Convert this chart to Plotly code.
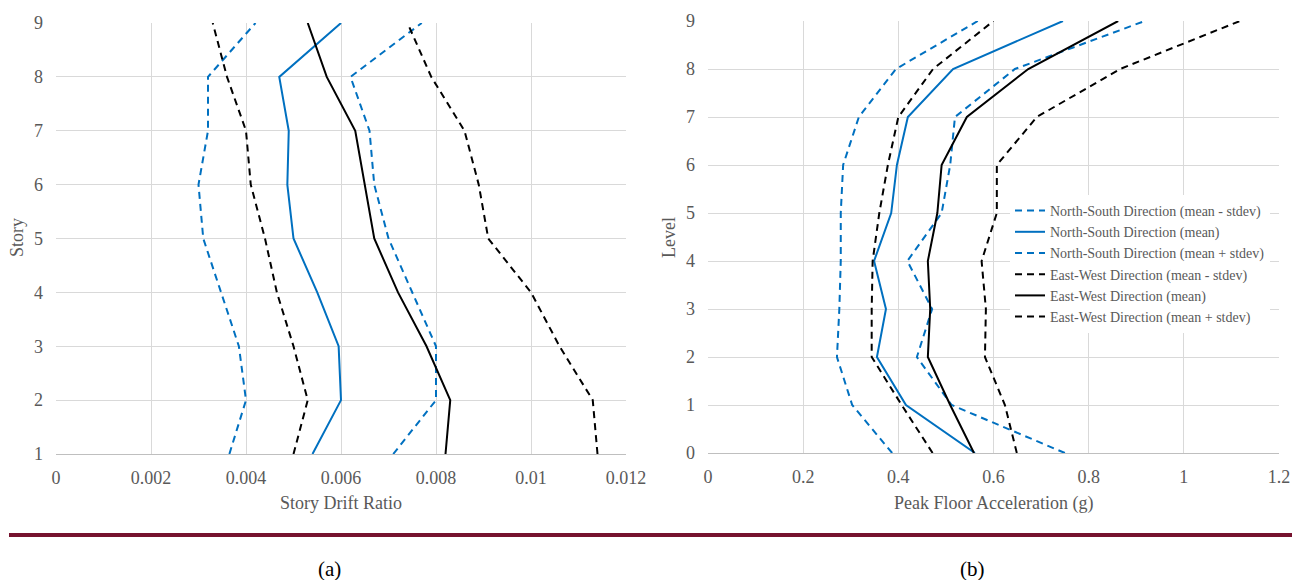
import plotly.graph_objects as go

# ---------------- data ----------------
stories = [1, 2, 3, 4, 5, 6, 7, 8, 9]
drift_ns_minus = [0.00365, 0.0040, 0.00385, 0.00347, 0.0031, 0.0030, 0.0032, 0.0032, 0.0042]
drift_ns_mean = [0.0054, 0.0060, 0.00595, 0.0055, 0.0050, 0.00487, 0.0049, 0.0047, 0.0060]
drift_ns_plus = [0.0071, 0.0080, 0.0080, 0.0075, 0.0070, 0.0067, 0.0066, 0.0062, 0.0077]
drift_ew_minus = [0.0050, 0.0053, 0.0050, 0.00465, 0.0044, 0.0041, 0.0040, 0.0036, 0.0033]
drift_ew_mean = [0.0082, 0.0083, 0.0078, 0.0072, 0.0067, 0.0065, 0.0063, 0.0057, 0.0053]
drift_ew_plus = [0.0114, 0.0113, 0.0106, 0.0100, 0.0091, 0.0089, 0.0086, 0.0079, 0.0074]

levels = [0, 1, 2, 3, 4, 5, 6, 7, 8, 9]
pfa_ns_minus = [0.387, 0.303, 0.271, 0.276, 0.279, 0.279, 0.284, 0.317, 0.395, 0.567]
pfa_ns_mean = [0.561, 0.416, 0.355, 0.374, 0.349, 0.385, 0.397, 0.420, 0.515, 0.746]
pfa_ns_plus = [0.750, 0.512, 0.439, 0.471, 0.419, 0.491, 0.509, 0.519, 0.645, 0.918]
pfa_ew_minus = [0.472, 0.407, 0.344, 0.344, 0.346, 0.360, 0.378, 0.400, 0.473, 0.600]
pfa_ew_mean = [0.559, 0.509, 0.462, 0.467, 0.462, 0.482, 0.491, 0.544, 0.673, 0.862]
pfa_ew_plus = [0.649, 0.624, 0.582, 0.584, 0.575, 0.607, 0.607, 0.691, 0.866, 1.118]

series_names = [
    "North-South Direction (mean - stdev)",
    "North-South Direction (mean)",
    "North-South Direction (mean + stdev)",
    "East-West Direction (mean - stdev)",
    "East-West Direction (mean)",
    "East-West Direction (mean + stdev)",
]

drift_ticks = [0, 0.002, 0.004, 0.006, 0.008, 0.01, 0.012]
drift_ticktext = ["0", "0.002", "0.004", "0.006", "0.008", "0.01", "0.012"]
pfa_ticks = [0, 0.2, 0.4, 0.6, 0.8, 1.0, 1.2]
pfa_ticktext = ["0", "0.2", "0.4", "0.6", "0.8", "1", "1.2"]

# ---------------- styles ----------------
BLUE = "#0070C0"
BLACK = "#000000"
DASH = "7px,5px"
styles = [
    dict(color=BLUE, dash=DASH),
    dict(color=BLUE, dash="solid"),
    dict(color=BLUE, dash=DASH),
    dict(color=BLACK, dash=DASH),
    dict(color=BLACK, dash="solid"),
    dict(color=BLACK, dash=DASH),
]
SERIF = "Liberation Serif, Times New Roman, serif"
GRAY = "#595959"
W, H = 1300, 580
OFF = 8  # page body margin offset


def px(x):
    return (x - OFF) / W


def py(y):
    return 1 - (y - OFF) / H


fig = go.Figure()

drift_series = [drift_ns_minus, drift_ns_mean, drift_ns_plus, drift_ew_minus, drift_ew_mean, drift_ew_plus]
pfa_series = [pfa_ns_minus, pfa_ns_mean, pfa_ns_plus, pfa_ew_minus, pfa_ew_mean, pfa_ew_plus]

for name, xs, st in zip(series_names, drift_series, styles):
    fig.add_trace(go.Scatter(x=xs, y=stories, mode="lines", name=name, showlegend=False,
                             line=dict(width=2, **st), xaxis="x", yaxis="y"))
for name, xs, st in zip(series_names, pfa_series, styles):
    fig.add_trace(go.Scatter(x=xs, y=levels, mode="lines", name=name, showlegend=True,
                             line=dict(width=2, **st), xaxis="x2", yaxis="y2"))

axis_common = dict(
    showgrid=True, gridcolor="#d9d9d9", gridwidth=1, zeroline=False, automargin=False,
    ticks="", tickfont=dict(family=SERIF, size=18, color=GRAY),
)


def label(text, x, y, size=18, color=GRAY, angle=0):
    return dict(text=text, xref="paper", yref="paper", x=px(x), y=py(y),
                xanchor="center", yanchor="middle", textangle=angle,
                showarrow=False, font=dict(family=SERIF, size=size, color=color))


fig.update_layout(
    width=W, height=H,
    margin=dict(l=0, r=0, t=0, b=0, autoexpand=False),
    paper_bgcolor="white", plot_bgcolor="white",
    xaxis=dict(domain=[px(56), px(626)], range=[0, 0.012], tickvals=drift_ticks, ticktext=drift_ticktext,
               showline=True, linecolor="#bfbfbf", linewidth=1, anchor="y", ticklabelstandoff=7,
               **axis_common),
    yaxis=dict(domain=[py(454), py(23)], range=[1, 9], dtick=1, anchor="x", ticklabelstandoff=12,
               **axis_common),
    xaxis2=dict(domain=[px(708), px(1279)], range=[0, 1.2], tickvals=pfa_ticks, ticktext=pfa_ticktext,
                showline=True, linecolor="#bfbfbf", linewidth=1, anchor="y2", ticklabelstandoff=7,
                **axis_common),
    yaxis2=dict(domain=[py(453), py(21)], range=[0, 9], dtick=1, anchor="x2", ticklabelstandoff=12,
                **axis_common),
    legend=dict(x=px(1010), y=py(195), xanchor="left", yanchor="top",
                bgcolor="white", borderwidth=0,
                font=dict(family=SERIF, size=14, color=GRAY), tracegroupgap=0),
    shapes=[dict(type="line", xref="paper", yref="paper", x0=px(9), x1=px(1295),
                 y0=py(535), y1=py(535), line=dict(color="#76122e", width=4))],
    annotations=[
        label("Story Drift Ratio", 341, 503),
        label("Peak Floor Acceleration (g)", 993, 503),
        label("Story", 17, 238, angle=-90),
        label("Level", 669, 237, angle=-90),
        label("(a)", 329, 569, size=21, color="black"),
        label("(b)", 972, 569, size=21, color="black"),
    ],
)

fig.write_html("out.html")
